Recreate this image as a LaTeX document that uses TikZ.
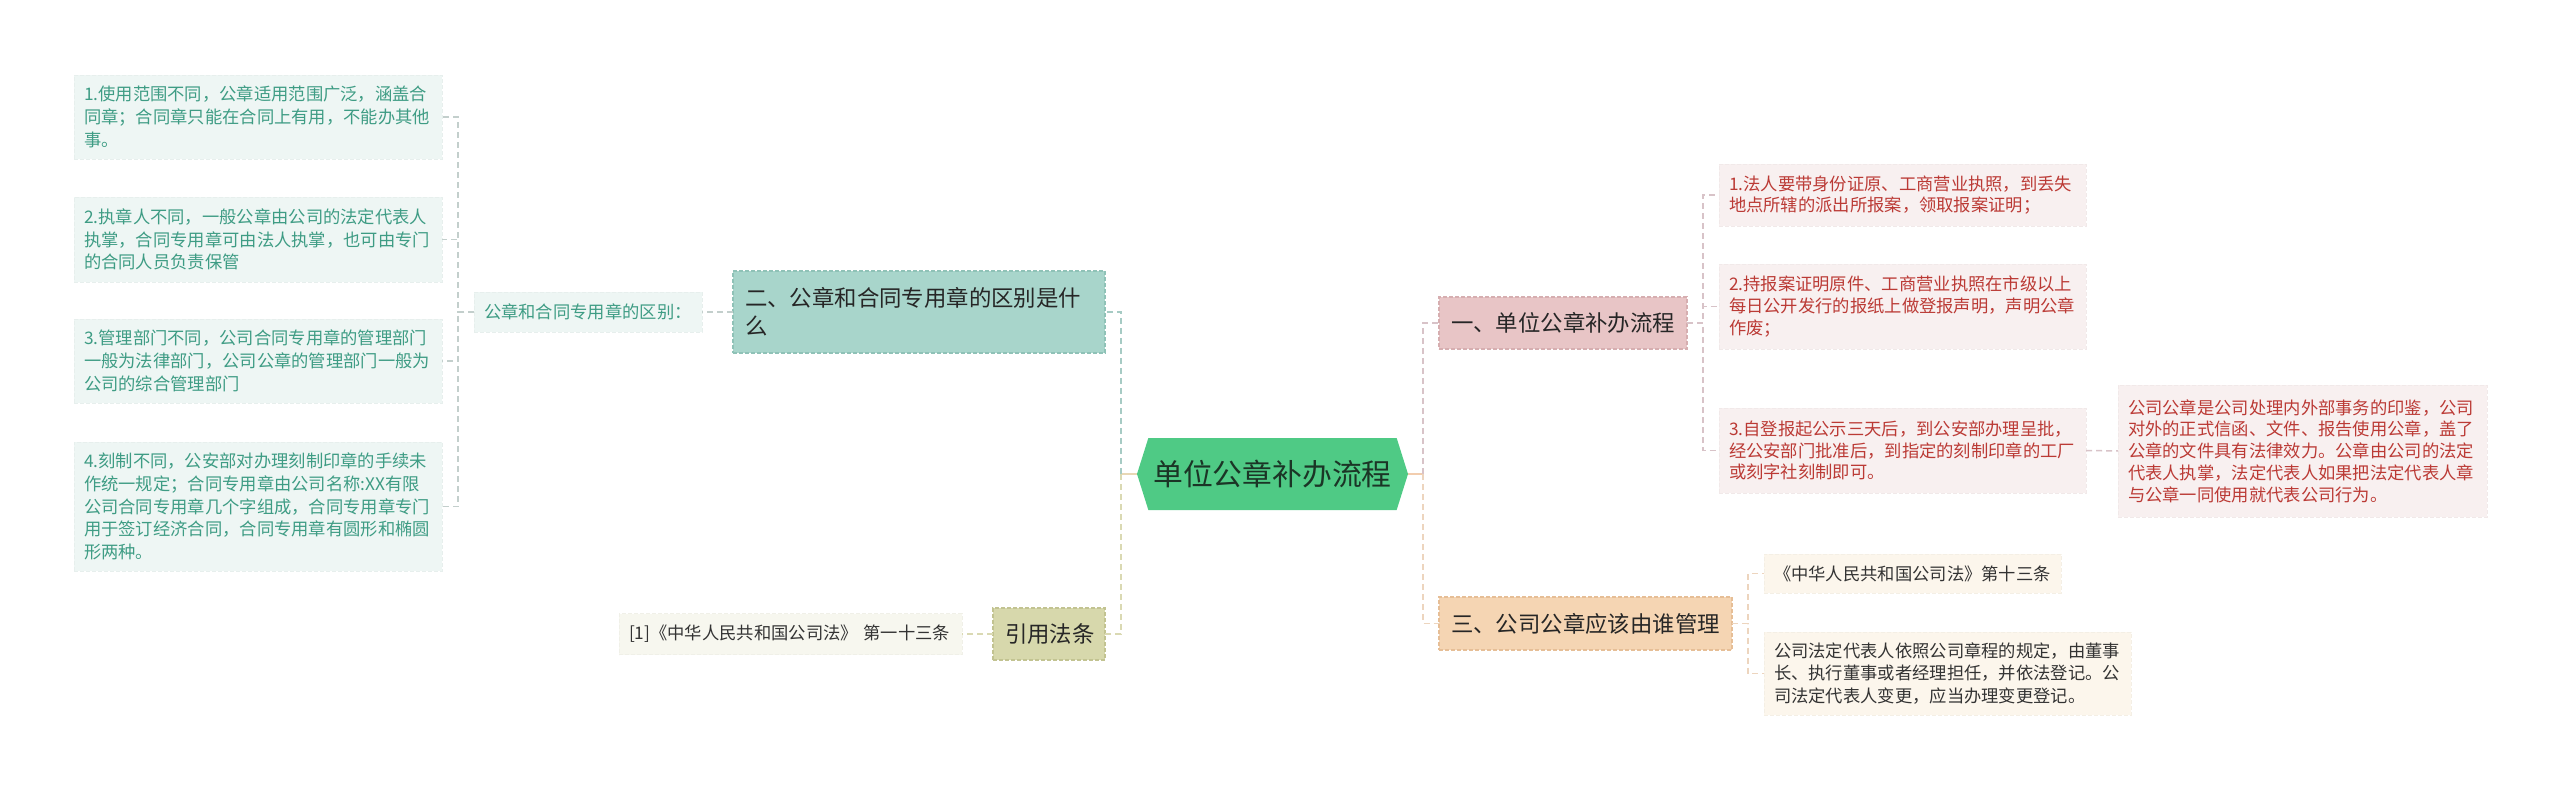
\documentclass[tikz,border=0pt]{standalone}
\usepackage{xcolor}
\usepackage{fontspec}
\setmainfont{Noto Sans CJK SC}
\usetikzlibrary{positioning, shapes.symbols}

% branch colours
\definecolor{rootfill}{HTML}{4FCA85}
\definecolor{roottext}{HTML}{1B3526}
\definecolor{tealmain}{HTML}{A8D5CB}
\definecolor{tealedge}{HTML}{8FC2B7}
\definecolor{tealleaf}{HTML}{EEF6F4}
\definecolor{tealtext}{HTML}{3E9C84}
\definecolor{tealline}{HTML}{A6CBC4}
\definecolor{tealgrey}{HTML}{C3CFCC}
\definecolor{pinkmain}{HTML}{E8C5C6}
\definecolor{pinkedge}{HTML}{D6AEB0}
\definecolor{pinkleaf}{HTML}{F8F0F0}
\definecolor{redtext}{HTML}{BB3A35}
\definecolor{pinkline}{HTML}{D8C3C8}
\definecolor{peachmain}{HTML}{F5D5B3}
\definecolor{peachedge}{HTML}{E6BE96}
\definecolor{peachleaf}{HTML}{FCF6EC}
\definecolor{peachline}{HTML}{EDD5BE}
\definecolor{olivemain}{HTML}{D7D8AC}
\definecolor{oliveedge}{HTML}{C2C391}
\definecolor{oliveleaf}{HTML}{F7F7EF}
\definecolor{oliveline}{HTML}{DAD9B3}
\definecolor{beigelink}{HTML}{E8D7B4}
\definecolor{peachlink}{HTML}{F2CDAE}
\definecolor{darktext}{HTML}{333333}

\newcommand{\leaffont}{\fontsize{8.65pt}{11.35pt}\selectfont}
\newcommand{\redfont}{\fontsize{8.65pt}{10.85pt}\selectfont}
\newcommand{\topicfont}{\fontsize{11.2pt}{14pt}\selectfont}

\begin{document}
\begin{tikzpicture}[
    x=0.5pt, y=-0.5pt,
    every node/.style={inner sep=0pt, outer sep=0pt, align=left},
    topic/.style={draw, dash pattern=on 2pt off 1pt, line width=0.6pt,
                  inner xsep=6pt, font=\topicfont, text=black!85},
    leaf/.style={draw, dash pattern=on 2pt off 1pt, line width=0.4pt,
                 inner xsep=5pt, font=\leaffont},
    tleaf/.style={leaf, fill=tealleaf, draw=tealleaf!97!black, text=tealtext},
    pleaf/.style={leaf, fill=pinkleaf, draw=pinkleaf!97!black, text=redtext, font=\redfont},
    oleaf/.style={leaf, fill=peachleaf, draw=peachleaf!97!black, text=darktext},
    yleaf/.style={leaf, fill=oliveleaf, draw=oliveleaf!97!black, text=darktext},
    conn/.style={line width=0.75pt, dash pattern=on 3pt off 2pt},
    rootlink/.style={line width=1pt},
]
\useasboundingbox (0,0) rectangle (2560,791);

% central topic
\node[shape=signal, signal to=west and east, signal pointer angle=145,
      fill=rootfill, minimum width=135.5pt, minimum height=36pt,
      font=\fontsize{14.9pt}{18pt}\selectfont, text=roottext] (root) at (1272.5,474) {单位公章补办流程};
\coordinate (jl) at (1121,474);
\coordinate (jr) at (1423,474);

% left main topics
\node[topic, fill=tealmain, draw=tealedge, text width=174pt, minimum height=41pt, anchor=east]
   (b2) at (1105,312) {二、公章和合同专用章的区别是什\\么};
\node[topic, fill=olivemain, draw=oliveedge, text width=44pt, minimum height=26pt, anchor=east]
   (b4) at (1105,634) {引用法条};

% right main topics
\node[topic, fill=pinkmain, draw=pinkedge, text width=112pt, minimum height=26pt, anchor=west]
   (b1) at (1439,323) {一、单位公章补办流程};
\node[topic, fill=peachmain, draw=peachedge, text width=134.5pt, minimum height=26.5pt, anchor=west]
   (b3) at (1439,623.5) {三、公司公章应该由谁管理};

% branch two: differences
\node[tleaf, text width=104pt, minimum height=20pt, anchor=east] (lab) at (702,312) {公章和合同专用章的区别：};
\node[tleaf, text width=174pt, minimum height=42pt, anchor=east] (l1) at (442,117)
   {1.使用范围不同，公章适用范围广泛，涵盖合\\同章；合同章只能在合同上有用，不能办其他\\事。};
\node[tleaf, text width=174pt, minimum height=42.5pt, anchor=east] (l2) at (442,239.5)
   {2.执章人不同，一般公章由公司的法定代表人\\执掌，合同专用章可由法人执掌，也可由专门\\的合同人员负责保管};
\node[tleaf, text width=174pt, minimum height=42pt, anchor=east] (l3) at (442,361)
   {3.管理部门不同，公司合同专用章的管理部门\\一般为法律部门，公司公章的管理部门一般为\\公司的综合管理部门};
\node[tleaf, text width=174pt, minimum height=64.5pt, anchor=east] (l4) at (442,506.5)
   {4.刻制不同，公安部对办理刻制印章的手续未\\作统一规定；合同专用章由公司名称:XX有限\\公司合同专用章几个字组成，合同专用章专门\\用于签订经济合同，合同专用章有圆形和椭圆\\形两种。};

% cited law
\node[yleaf, text width=161.5pt, minimum height=20.5pt, anchor=east] (ref1) at (962,634)
   {[1]《中华人民共和国公司法》 第一十三条};

% branch one: steps
\node[pleaf, text width=173.5pt, minimum height=31pt, anchor=west] (r1) at (1719,195)
   {1.法人要带身份证原、工商营业执照，到丢失\\地点所辖的派出所报案，领取报案证明；};
\node[pleaf, text width=173.5pt, minimum height=42.5pt, anchor=west] (r2) at (1719,306.5)
   {2.持报案证明原件、工商营业执照在市级以上\\每日公开发行的报纸上做登报声明，声明公章\\作废；};
\node[pleaf, text width=173.5pt, minimum height=42.5pt, anchor=west] (r3) at (1719,450.5)
   {3.自登报起公示三天后，到公安部办理呈批，\\经公安部门批准后，到指定的刻制印章的工厂\\或刻字社刻制即可。};
\node[pleaf, text width=174.5pt, minimum height=66pt, anchor=west] (r3a) at (2118,451)
   {公司公章是公司处理内外部事务的印鉴，公司\\对外的正式信函、文件、报告使用公章，盖了\\公章的文件具有法律效力。公章由公司的法定\\代表人执掌，法定代表人如果把法定代表人章\\与公章一同使用就代表公司行为。};

% branch three: who keeps the seal
\node[oleaf, text width=138.5pt, minimum height=19.5pt, anchor=west] (t1) at (1764,573.5)
   {《中华人民共和国公司法》第十三条};
\node[oleaf, text width=173.5pt, minimum height=41.5pt, anchor=west] (t2) at (1764,673.5)
   {公司法定代表人依照公司章程的规定，由董事\\长、执行董事或者经理担任，并依法登记。公\\司法定代表人变更，应当办理变更登记。};

% connectors from the centre
\draw[rootlink, beigelink] (root.west) -- (jl);
\draw[rootlink, peachlink] (root.east) -- (jr);
\draw[conn, tealline] (jl) |- (b2.east);
\draw[conn, oliveline] (jl) |- (b4.east);
\draw[conn, pinkline] (jr) |- (b1.west);
\draw[conn, peachline] (jr) |- (b3.west);

% connectors inside the branches
\draw[conn, tealgrey] (b2.west) -- (lab.east);
\foreach \n in {l1,l2,l3,l4}
   \draw[conn, tealgrey] (lab.west) -- ++(-16,0) |- (\n.east);
\draw[conn, oliveline] (b4.west) -- (ref1.east);
\foreach \n in {r1,r2,r3}
   \draw[conn, pinkline] (b1.east) -- ++(16,0) |- (\n.west);
\draw[conn, pinkline] (r3.east) -- (r3a.west);
\foreach \n in {t1,t2}
   \draw[conn, peachline] (b3.east) -- ++(16,0) |- (\n.west);
\end{tikzpicture}
\end{document}
